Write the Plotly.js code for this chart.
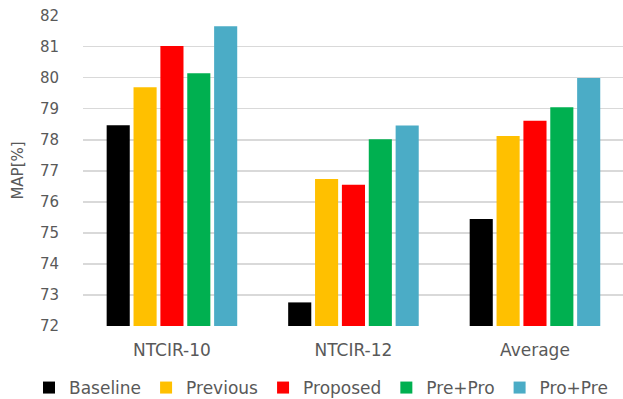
<!DOCTYPE html>
<html>
<head>
<meta charset="utf-8">
<script src="https://cdn.plot.ly/plotly-3.0.1.min.js"></script>
<style>html,body{margin:0;padding:0;background:#fff;}#chart{width:623px;height:399px;}</style>
</head>
<body>
<div id="chart"></div>
<script>
var categories = ["NTCIR-10", "NTCIR-12", "Average"];
var seriesNames = ["Baseline", "Previous", "Proposed", "Pre+Pro", "Pro+Pre"];
var baseline = [78.47, 72.76, 75.45];
var previous = [79.69, 76.74, 78.12];
var proposed = [81.02, 76.55, 78.61];
var prePro = [80.14, 78.02, 79.05];
var proPre = [81.66, 78.46, 79.99];
var yTicks = [72, 73, 74, 75, 76, 77, 78, 79, 80, 81, 82];

var colors = ["#000000", "#FFC000", "#FF0000", "#00B050", "#4BACC6"];
var allValues = [baseline, previous, proposed, prePro, proPre];

var traces = allValues.map(function (vals, i) {
  return {
    type: "bar",
    name: seriesNames[i],
    x: categories,
    y: vals.map(function (v) { return v - 72; }),
    base: 72,
    marker: { color: colors[i], line: { width: 0 } },
    hoverinfo: "skip"
  };
});

var layout = {
  width: 623,
  height: 399,
  margin: { l: 83, r: 0, t: 15, b: 73, autoexpand: false },
  paper_bgcolor: "#ffffff",
  plot_bgcolor: "#ffffff",
  barmode: "group",
  bargap: 0.26,
  bargroupgap: 0.14,
  font: { family: "DejaVu Sans", color: "#595959", size: 15 },
  xaxis: {
    type: "category",
    range: [-0.49, 2.485],
    automargin: false,
    showgrid: false,
    showline: false,
    zeroline: false,
    ticks: "",
    ticklabelstandoff: 12,
    tickfont: { size: 17, color: "#595959" }
  },
  yaxis: {
    range: [72, 82.02],
    automargin: false,
    tickvals: yTicks,
    ticktext: yTicks.map(String),
    showgrid: true,
    gridcolor: "#d9d9d9",
    gridwidth: 1.5,
    zeroline: false,
    showline: false,
    ticks: "",
    ticklabelstandoff: 23,
    tickfont: { size: 15, color: "#595959" },
    title: { text: "MAP[%]", font: { size: 15, color: "#595959" }, standoff: 12 }
  },
  showlegend: true,
  legend: {
    orientation: "h",
    x: -0.1,
    xanchor: "left",
    y: -0.1415,
    yanchor: "top",
    font: { size: 17, color: "#595959" },
    itemwidth: 30,
    tracegroupgap: 0
  }
};

Plotly.newPlot("chart", traces, layout, { displayModeBar: false, staticPlot: true });
</script>
</body>
</html>
